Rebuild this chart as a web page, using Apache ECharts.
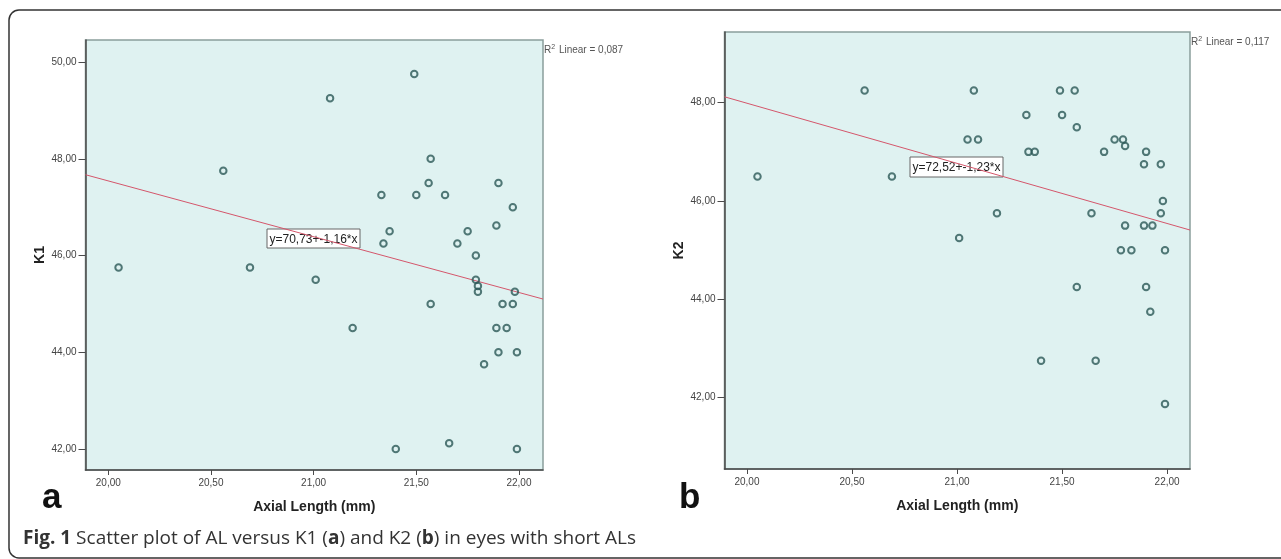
<!DOCTYPE html>
<html><head><meta charset="utf-8">
<script src="https://cdn.jsdelivr.net/npm/echarts@6/dist/echarts.min.js"></script>
<style>html,body{margin:0;padding:0;background:#fff}#c{width:1281px;height:559px}</style>
</head><body><div id="c"></div>
<script>
// ---- data ----
const xTicks = [20, 20.5, 21, 21.5, 22];
const k1Ticks = [42, 44, 46, 48, 50];
const k2Ticks = [42, 44, 46, 48];

const k1Points = [
  [20.05,45.75],[20.56,47.75],[20.69,45.75],[21.08,49.25],[21.49,49.75],[21.57,48.00],
  [21.56,47.50],[21.33,47.25],[21.50,47.25],[21.64,47.25],[21.90,47.50],[21.97,47.00],
  [21.89,46.62],[21.37,46.50],[21.34,46.25],[21.75,46.50],[21.70,46.25],[21.79,46.00],
  [21.79,45.50],[21.01,45.50],[21.80,45.37],[21.80,45.25],[21.98,45.25],[21.57,45.00],
  [21.92,45.00],[21.97,45.00],[21.19,44.50],[21.89,44.50],[21.94,44.50],[21.90,44.00],
  [21.99,44.00],[21.83,43.75],[21.40,42.00],[21.66,42.12],[21.99,42.00]
];
const k2Points = [
  [20.05,46.50],[20.56,48.25],[20.69,46.50],[21.08,48.25],[21.05,47.25],[21.10,47.25],
  [21.01,45.25],[21.19,45.75],[21.33,47.75],[21.34,47.00],[21.37,47.00],[21.49,48.25],
  [21.56,48.25],[21.50,47.75],[21.57,47.50],[21.64,45.75],[21.70,47.00],[21.75,47.25],
  [21.79,47.25],[21.80,47.12],[21.90,47.00],[21.89,46.75],[21.97,46.75],[21.98,46.00],
  [21.97,45.75],[21.80,45.50],[21.89,45.50],[21.93,45.50],[21.78,45.00],[21.83,45.00],
  [21.99,45.00],[21.57,44.25],[21.90,44.25],[21.92,43.75],[21.40,42.75],[21.66,42.75],
  [21.99,41.87]
];
const k1Fit = [[19.889,47.67],[22.117,45.10]];
const k2Fit = [[19.893,48.12],[22.109,45.41]];
const k1Equation = 'y=70,73+-1,16*x';
const k2Equation = 'y=72,52+-1,23*x';
const k1R2 = '0,087';
const k2R2 = '0,117';

// ---- chart ----
const fmt = v => v.toFixed(2).replace('.', ',');
const labelFont = "'Liberation Sans', Arial, sans-serif";
const capFont = "'Open Sans', 'Noto Sans', sans-serif";

function xAxisCfg(gi, min, max) {
  return {
    gridIndex: gi, type: 'value', min: min, max: max,
    name: 'Axial Length (mm)', nameLocation: 'middle', nameGap: 30,
    nameTextStyle: {fontFamily: labelFont, fontWeight: 'bold', fontSize: 14, color: '#222'},
    axisLine: {show: true, onZero: false, lineStyle: {color: '#4a4a4a', width: 1.5}},
    axisTick: {show: true, customValues: xTicks, length: 5, lineStyle: {color: '#4a4a4a'}},
    axisLabel: {customValues: xTicks, formatter: fmt, margin: 8, fontSize: 10, color: '#444', fontFamily: labelFont},
    splitLine: {show: false}
  };
}
function yAxisCfg(gi, min, max, ticks, name) {
  return {
    gridIndex: gi, type: 'value', min: min, max: max,
    name: name, nameLocation: 'middle', nameGap: 38,
    nameTextStyle: {fontFamily: labelFont, fontWeight: 'bold', fontSize: 14, color: '#222'},
    axisLine: {show: true, onZero: false, lineStyle: {color: '#4a4a4a', width: 1.5}},
    axisTick: {show: true, customValues: ticks, length: 7, lineStyle: {color: '#4a4a4a'}},
    axisLabel: {customValues: ticks, formatter: fmt, margin: 9, fontSize: 10, color: '#444', fontFamily: labelFont},
    splitLine: {show: false}
  };
}
const markerStyle = {color: 'rgba(0,0,0,0)', borderColor: '#2b5856', borderWidth: 2};
const fitStyle = {color: '#d4566b', width: 1};

function annot(x, y, w, h, text) {
  return {
    type: 'group', x: x, y: y, z: 100,
    children: [
      {type: 'rect', shape: {x: 0, y: 0, width: w, height: h},
       style: {fill: '#fff', stroke: '#666', lineWidth: 1}},
      {type: 'text', x: w / 2, y: h / 2 + 1,
       style: {text: text, fontSize: 12, fontFamily: labelFont, fill: '#222', align: 'center', verticalAlign: 'middle'}}
    ]
  };
}
function r2(x, y, val) {
  return {
    type: 'text', x: x, y: y, z: 100,
    style: {
      text: '{n|R}{s|2}{n| Linear = ' + val + '}',
      verticalAlign: 'middle',
      rich: {
        n: {fontSize: 10, fontFamily: labelFont, fill: '#555', color: '#555'},
        s: {fontSize: 7, fontFamily: labelFont, fill: '#555', color: '#555', verticalAlign: 'top', padding: [0, 1, 6, 0]}
      }
    }
  };
}

const chart = echarts.init(document.getElementById('c'), null, {renderer: 'canvas'});
chart.setOption({
  backgroundColor: '#fff',
  animation: false,
  grid: [
    {left: 85.5, top: 40, width: 457.5, height: 430, show: true, backgroundColor: '#dff2f1', borderColor: '#8a9e9c', borderWidth: 1.5},
    {left: 724.5, top: 32, width: 465.5, height: 437, show: true, backgroundColor: '#dff2f1', borderColor: '#8a9e9c', borderWidth: 1.5}
  ],
  xAxis: [xAxisCfg(0, 19.889, 22.117), xAxisCfg(1, 19.893, 22.109)],
  yAxis: [yAxisCfg(0, 41.566, 50.455, k1Ticks, 'K1'), yAxisCfg(1, 40.55, 49.438, k2Ticks, 'K2')],
  series: [
    {type: 'line', xAxisIndex: 0, yAxisIndex: 0, data: k1Fit, symbol: 'none', lineStyle: fitStyle, silent: true, z: 2},
    {type: 'line', xAxisIndex: 1, yAxisIndex: 1, data: k2Fit, symbol: 'none', lineStyle: fitStyle, silent: true, z: 2},
    {type: 'scatter', xAxisIndex: 0, yAxisIndex: 0, data: k1Points, symbol: 'circle', symbolSize: 6.5, itemStyle: markerStyle, z: 3},
    {type: 'scatter', xAxisIndex: 1, yAxisIndex: 1, data: k2Points, symbol: 'circle', symbolSize: 6.5, itemStyle: markerStyle, z: 3}
  ],
  graphic: [
    {type: 'rect', z: 0, shape: {x: 9, y: 10, width: 1300, height: 548, r: 10},
     style: {fill: 'none', stroke: '#333', lineWidth: 1.5}},
    annot(267, 229, 93, 19, k1Equation),
    annot(910, 157, 93, 20, k2Equation),
    r2(544, 50, k1R2),
    r2(1191, 42, k2R2),
    {type: 'text', x: 42, y: 498,
     style: {text: 'a', fontSize: 35, fontWeight: 'bold', fontFamily: labelFont, fill: '#111', verticalAlign: 'middle'}},
    {type: 'text', x: 679, y: 498,
     style: {text: 'b', fontSize: 35, fontWeight: 'bold', fontFamily: labelFont, fill: '#111', verticalAlign: 'middle'}},
    {type: 'text', x: 23, y: 539,
     style: {
       text: '{b|Fig. 1} Scatter plot of AL versus K1 ({b|a}) and K2 ({b|b}) in eyes with short ALs',
       verticalAlign: 'middle', fontSize: 19, fontFamily: capFont, fill: '#333',
       rich: {b: {fontSize: 19, fontWeight: 'bold', fontFamily: capFont, fill: '#333', color: '#333'}}
     }}
  ]
});
</script>
</body></html>
